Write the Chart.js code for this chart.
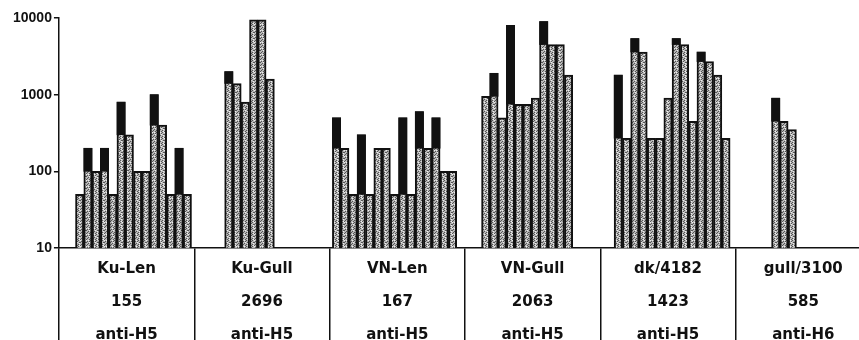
<!DOCTYPE html>
<html>
<head>
<meta charset="utf-8">
<script src="https://cdn.jsdelivr.net/npm/chart.js@4.4.1/dist/chart.umd.min.js"></script>
<style>
  html, body { margin: 0; padding: 0; background: #fff; overflow: hidden; }
  #wrap { width: 871px; height: 340px; position: relative; }
</style>
</head>
<body>
<div id="wrap"><canvas id="chart"></canvas></div>
<script>
// Dados (título HI, escala log)
const groupNames = ['Ku-Len', 'Ku-Gull', 'VN-Len', 'VN-Gull', 'dk/4182', 'gull/3100'];
const groupCounts = ['155', '2696', '167', '2063', '1423', '585'];
const groupSera = ['anti-H5', 'anti-H5', 'anti-H5', 'anti-H5', 'anti-H5', 'anti-H6'];

const kuLen = [50, 200, 100, 200, 50, 800, 300, 100, 100, 1000, 400, 50, 200, 50];
const kuGull = [2000, 1400, 800, 9500, 9500, 1600];
const vnLen = [500, 200, 50, 300, 50, 200, 200, 50, 500, 50, 600, 200, 500, 100, 100];
const vnGull = [950, 1900, 500, 8000, 750, 750, 900, 9000, 4500, 4500, 1800];
const dk4182 = [1800, 270, 5400, 3600, 270, 270, 900, 5400, 4500, 450, 3600, 2700, 1800, 270];
const gull3100 = [900, 450, 350];

const yTicks = [10, 100, 1000, 10000];

// layout: empty slots before each group (and after the last)
const gapSlots = [2, 4, 7, 3, 5, 5, 9];

const groups = [kuLen, kuGull, vnLen, vnGull, dk4182, gull3100];

// black cap where a bar rises above both neighbours
function capsFor(vals) {
    return vals.map((v, i) => {
        const l = i > 0 ? vals[i - 1] : 0;
        const r = i < vals.length - 1 ? vals[i + 1] : 0;
        const m = Math.max(l, r);
        return v > m ? [m, v] : null;
    });
}

const slotLabels = [];
const barData = [];
const capData = [];
function pushGap(n) {
    for (let k = 0; k < n; k++) {
        slotLabels.push('');
        barData.push(null);
        capData.push(null);
    }
}
groups.forEach((vals, gi) => {
    pushGap(gapSlots[gi]);
    const caps = capsFor(vals);
    vals.forEach((v, i) => {
        slotLabels.push(groupNames[gi] + ' ' + (i + 1));
        barData.push(v);
        capData.push(caps[i]);
    });
});
pushGap(gapSlots[gapSlots.length - 1]);

const groupLabels = groupNames.map((n, i) => [n, groupCounts[i], groupSera[i]]);

// textura pontilhada das barras
function makeStipple() {
    const c = document.createElement('canvas');
    c.width = 6; c.height = 6;
    const g = c.getContext('2d');
    g.fillStyle = '#b9b9b9';
    g.fillRect(0, 0, 6, 6);
    g.fillStyle = '#555';
    const dots = [[0, 0], [3, 1], [1, 2], [4, 3], [0, 4], [2, 5], [5, 5], [3, 4], [5, 1], [2, 2]];
    dots.forEach(d => g.fillRect(d[0], d[1], 1, 1));
    g.fillStyle = '#eee';
    [[2, 0], [5, 2], [1, 5], [4, 0], [1, 3]].forEach(d => g.fillRect(d[0], d[1], 1, 1));
    return g.createPattern(c, 'repeat');
}

const ctx = document.getElementById('chart').getContext('2d');
const stipple = makeStipple();

new Chart(ctx, {
    type: 'bar',
    data: {
        labels: slotLabels,
        datasets: [
            {
                label: 'cap',
                data: capData,
                backgroundColor: '#111',
                borderWidth: 0,
                grouped: false,
                barPercentage: 1,
                categoryPercentage: 1,
                xAxisID: 'x',
                yAxisID: 'y'
            },
            {
                label: 'titre',
                data: barData,
                backgroundColor: stipple,
                borderColor: '#111',
                borderWidth: { left: 2, right: 2, top: 2, bottom: 0 },
                borderSkipped: false,
                grouped: false,
                barPercentage: 1,
                categoryPercentage: 1,
                xAxisID: 'x',
                yAxisID: 'y'
            }
        ]
    },
    options: {
        responsive: true,
        maintainAspectRatio: false,
        animation: false,
        layout: { padding: { top: 18, right: 0, bottom: 0, left: 11 } },
        plugins: {
            legend: { display: false },
            tooltip: { enabled: false }
        },
        scales: {
            x: {
                type: 'category',
                display: false,
                offset: true
            },
            g: {
                type: 'category',
                labels: groupLabels,
                position: 'bottom',
                offset: true,
                afterFit: scale => { scale.height = 92; },
                grid: {
                    offset: true,
                    drawOnChartArea: false,
                    drawTicks: true,
                    tickLength: 95,
                    color: '#111',
                    lineWidth: 1.5
                },
                border: { display: true, color: '#111', width: 1.5 },
                ticks: {
                    padding: -90,
                    autoSkip: false,
                    maxRotation: 0,
                    color: '#111',
                    font: { family: 'DejaVu Sans', weight: 'bold', size: 15, lineHeight: 2.2 }
                }
            },
            y: {
                type: 'logarithmic',
                min: 10,
                max: 10000,
                afterBuildTicks: scale => {
                    scale.ticks = yTicks.map(v => ({ value: v }));
                },
                ticks: {
                    callback: v => String(v),
                    color: '#111',
                    padding: 2,
                    font: { family: 'Liberation Sans', weight: 'bold', size: 14 }
                },
                grid: {
                    drawOnChartArea: false,
                    tickLength: 5,
                    color: '#111',
                    lineWidth: 1.5
                },
                border: { color: '#111', width: 1.5 }
            }
        }
    }
});
</script>
</body>
</html>
